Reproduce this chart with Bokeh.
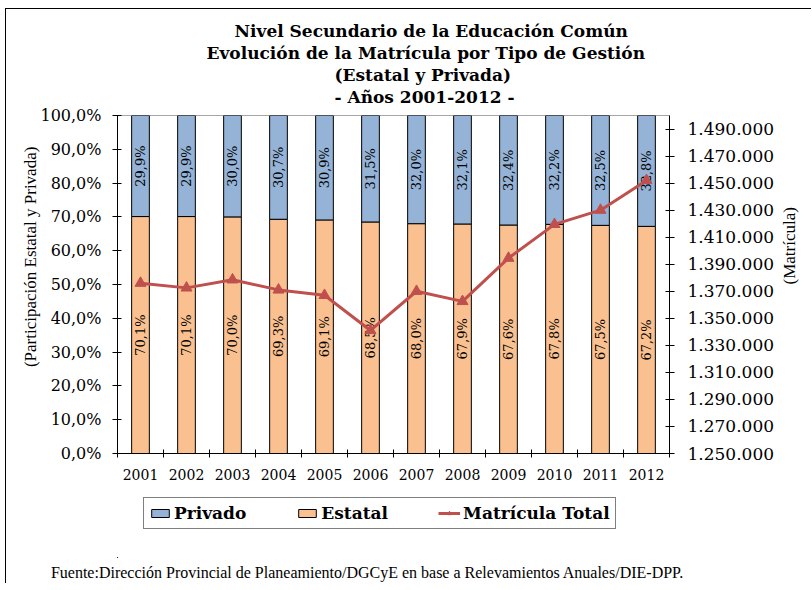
import math
from bokeh.plotting import figure
from bokeh.layouts import column
from bokeh.models import (Range1d, LinearAxis, FixedTicker, ColumnDataSource,
                          Legend, LegendItem, Title)
from bokeh.core.properties import value
from bokeh.embed import file_html
from bokeh.resources import INLINE

# ---------------- data ----------------
years = ["2001", "2002", "2003", "2004", "2005", "2006",
         "2007", "2008", "2009", "2010", "2011", "2012"]
estatal = [70.1, 70.1, 70.0, 69.3, 69.1, 68.5, 68.0, 67.9, 67.6, 67.8, 67.5, 67.2]
privado = [29.9, 29.9, 30.0, 30.7, 30.9, 31.5, 32.0, 32.1, 32.4, 32.2, 32.5, 32.8]
matricula = [1376000, 1372500, 1378500, 1371000, 1367000, 1341000,
             1370000, 1362500, 1394500, 1419500, 1430000, 1452000]

pct_ticks = [0, 10, 20, 30, 40, 50, 60, 70, 80, 90, 100]
pct_tick_labels = ["0,0%", "10,0%", "20,0%", "30,0%", "40,0%", "50,0%",
                   "60,0%", "70,0%", "80,0%", "90,0%", "100,0%"]
mat_ticks = [1250000, 1270000, 1290000, 1310000, 1330000, 1350000, 1370000,
             1390000, 1410000, 1430000, 1450000, 1470000, 1490000]
mat_tick_labels = ["1.250.000", "1.270.000", "1.290.000", "1.310.000", "1.330.000",
                   "1.350.000", "1.370.000", "1.390.000", "1.410.000", "1.430.000",
                   "1.450.000", "1.470.000", "1.490.000"]

title_lines = ["Nivel Secundario de la Educación Común",
               "Evolución de la Matrícula por Tipo de Gestión",
               "(Estatal y Privada)",
               "- Años 2001-2012 -"]
left_axis_title = "(Participación Estatal y Privada)"
right_axis_title = "(Matrícula)"
legend_labels = ["Privado", "Estatal", "Matrícula Total"]
source_text = "Fuente:Dirección Provincial de Planeamiento/DGCyE en base a Relevamientos Anuales/DIE-DPP."

# ---------------- styling ----------------
C_PRIV = "#95B3D7"
C_EST = "#FAC090"
C_LINE = "#C0504D"
SERIF = "DejaVu Serif"
TIMES = "Liberation Serif"
NB = "\u00a0"

xs = list(range(len(years)))
fmt = lambda v: ("%.1f" % v).replace(".", ",") + "%"
src = ColumnDataSource(dict(
    x=xs, year=years, est=estatal, priv=privado, mat=matricula,
    est_top=[e for e in estatal],
    priv_top=[e + p for e, p in zip(estatal, privado)],
    est_mid=[e / 2 for e in estatal],
    priv_mid=[e + p / 2 for e, p in zip(estatal, privado)],
    est_lbl=[fmt(v) for v in estatal],
    priv_lbl=[fmt(v) for v in privado],
))

W, H1, H2 = 805, 481, 93
p = figure(width=W, height=H1, output_backend="svg", toolbar_location=None,
           x_range=Range1d(-0.5, 11.5), y_range=Range1d(0, 100),
           min_border_left=111, min_border_right=133,
           min_border_top=106, min_border_bottom=37)
p.background_fill_color = "white"
p.border_fill_color = "white"
p.outline_line_color = "#A6A6A6"
p.xgrid.visible = False
p.ygrid.visible = False

bw = 0.385
r_est = p.vbar(x="x", bottom=0, top="est_top", width=bw, source=src,
               fill_color=C_EST, line_color="black", line_width=1)
r_priv = p.vbar(x="x", bottom="est_top", top="priv_top", width=bw, source=src,
                fill_color=C_PRIV, line_color="black", line_width=1)

p.text(x="x", y="est_mid", text="est_lbl", source=src, angle=math.pi / 2,
       text_align="center", text_baseline="middle",
       text_font=value(SERIF), text_font_size="13px", text_color="black")
p.text(x="x", y="priv_mid", text="priv_lbl", source=src, angle=math.pi / 2,
       text_align="center", text_baseline="middle",
       text_font=value(SERIF), text_font_size="13px", text_color="black")

p.extra_y_ranges = {"mat": Range1d(1250000, 1500000)}
r_line = p.line(x="x", y="mat", source=src, y_range_name="mat",
                line_color=C_LINE, line_width=3)
r_mark = p.scatter(x="x", y="mat", source=src, y_range_name="mat",
                   marker="triangle", size=11, fill_color=C_LINE, line_color=C_LINE)

# x axis
xax = p.xaxis[0]
xax.ticker = FixedTicker(ticks=xs, minor_ticks=[i + 0.5 for i in [-1] + xs])
xax.major_label_overrides = {i: y for i, y in zip(xs, years)}
xax.major_tick_in = 0
xax.major_tick_out = 0
xax.minor_tick_in = 4
xax.minor_tick_out = 4
xax.minor_tick_line_color = "black"
xax.axis_line_color = "black"
xax.major_label_standoff = 11
xax.major_label_text_font = SERIF
xax.major_label_text_font_size = "14px"
xax.major_label_text_color = "black"

# left axis
yax = p.yaxis[0]
yax.ticker = FixedTicker(ticks=pct_ticks)
yax.major_label_overrides = {t: l for t, l in zip(pct_ticks, pct_tick_labels)}
yax.minor_tick_line_color = None
yax.major_tick_in = 4
yax.major_tick_out = 5
yax.major_tick_line_color = "black"
yax.axis_line_color = "black"
yax.major_label_standoff = 11
yax.major_label_text_font = SERIF
yax.major_label_text_font_size = "16px"
yax.major_label_text_color = "black"
yax.axis_label = NB * 13 + left_axis_title
yax.axis_label_text_font = TIMES
yax.axis_label_text_font_size = "17px"
yax.axis_label_text_font_style = "normal"
yax.axis_label_text_color = "black"
yax.axis_label_standoff = -3

# right axis
rax = LinearAxis(y_range_name="mat", ticker=FixedTicker(ticks=mat_ticks))
rax.major_label_overrides = {t: l for t, l in zip(mat_ticks, mat_tick_labels)}
rax.minor_tick_line_color = None
rax.major_tick_in = 4
rax.major_tick_out = 5
rax.major_tick_line_color = "black"
rax.axis_line_color = "black"
rax.major_label_standoff = 13
rax.major_label_text_font = SERIF
rax.major_label_text_font_size = "17px"
rax.major_label_text_color = "black"
rax.axis_label = right_axis_title
rax.axis_label_text_font = TIMES
rax.axis_label_text_font_size = "17px"
rax.axis_label_text_font_style = "normal"
rax.axis_label_text_color = "black"
rax.axis_label_standoff = 12
if "axis_label_orientation" in rax.properties():
    rax.axis_label_orientation = math.pi / 2
p.add_layout(rax, "right")

# titles: spacer first (closest to frame), then lines bottom-up
p.add_layout(Title(text=NB, text_font_size="7px", standoff=0), "above")
title_offsets = [117, 89, 217, 217]
for line, off in reversed(list(zip(title_lines, title_offsets))):
    t = Title(text=line, align="left", offset=off,
              text_font=SERIF, text_font_size="17px", text_font_style="bold",
              text_color="black", standoff=0)
    p.add_layout(t, "above")

# ---------- second strip: legend + source note ----------
FRAME_W = 561
p2 = figure(width=W, height=H2, output_backend="svg", toolbar_location=None,
            x_range=Range1d(0, FRAME_W), y_range=Range1d(0, H2),
            x_axis_location="below", y_axis_location=None,
            min_border_top=0, min_border_bottom=0)
p2.outline_line_color = None
p2.grid.visible = False
p2.background_fill_color = "white"
p2.border_fill_color = "white"

# legend proxies: the same series drawn on ranges that keep them out of view
p2.extra_x_ranges = {"off": Range1d(1000, 1001)}
p2.extra_y_ranges = {"offy": Range1d(5000, 5001)}
d_priv = p2.vbar(x="x", bottom="est_top", top="priv_top", width=bw, source=src,
                 x_range_name="off", y_range_name="offy",
                 fill_color=C_PRIV, line_color="black")
d_est = p2.vbar(x="x", bottom="est_mid", top="est_top", width=bw, source=src,
                x_range_name="off", y_range_name="offy",
                fill_color=C_EST, line_color="black")
d_line = p2.line(x="x", y="est", source=src, x_range_name="off", y_range_name="offy",
                 line_color=C_LINE, line_width=3)
d_mark = p2.scatter(x="x", y="est", source=src, x_range_name="off", y_range_name="offy",
                    marker="triangle", size=9, fill_color=C_LINE, line_color=C_LINE)

legend = Legend(items=[
    LegendItem(label=legend_labels[0], renderers=[d_priv]),
    LegendItem(label=legend_labels[1], renderers=[d_est]),
    LegendItem(label=legend_labels[2], renderers=[d_line, d_mark]),
], orientation="horizontal", location=(26, 28),
    border_line_color="black", border_line_width=1,
    background_fill_color="white", background_fill_alpha=1,
    label_text_font=SERIF, label_text_font_size="17px", label_text_font_style="bold",
    label_text_color="black",
    label_standoff=3, glyph_width=22, glyph_height=10, spacing=50,
    padding=5, margin=0)
p2.add_layout(legend, "center")

sax = p2.xaxis[0]
sax.ticker = FixedTicker(ticks=[])
sax.axis_line_color = None
sax.major_tick_line_color = None
sax.minor_tick_line_color = None
sax.major_tick_out = 0
sax.major_tick_in = 0
sax.major_label_standoff = 0
sax.major_label_text_font_size = "0px"
sax.axis_label = source_text + NB * 13
sax.axis_label_text_font = TIMES
sax.axis_label_text_font_size = "16px"
sax.axis_label_text_font_style = "normal"
sax.axis_label_text_color = "black"
sax.axis_label_standoff = 6

layout = column(p, p2, spacing=0)
layout.styles = {"margin-left": "5px", "margin-top": "8px",
                 "border-left": "1px solid #000", "border-top": "1px solid #000"}

open("out.html", "w").write(file_html(layout, INLINE))
